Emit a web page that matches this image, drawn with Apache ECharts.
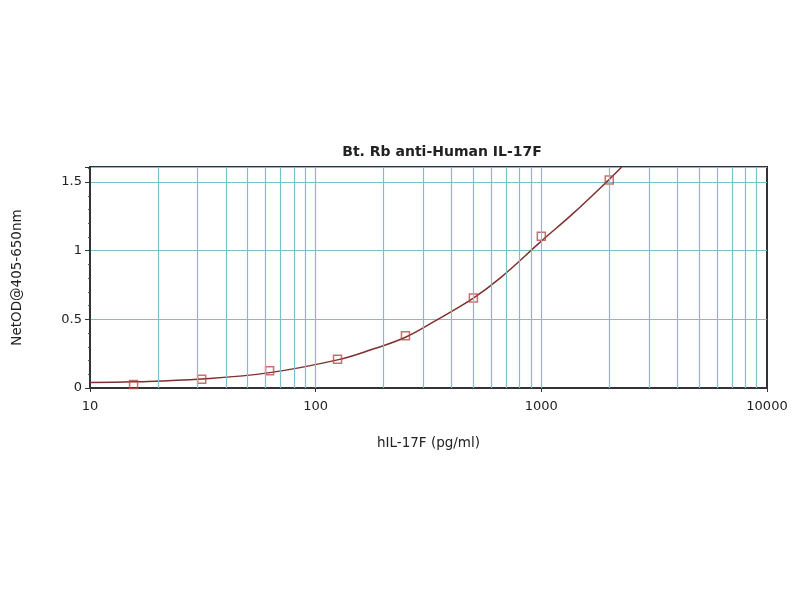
<!DOCTYPE html>
<html>
<head>
<meta charset="utf-8">
<script src="https://cdn.jsdelivr.net/npm/echarts@6/dist/echarts.min.js"></script>
<style>
  html, body { margin: 0; padding: 0; background: #fff; }
  #chart { width: 800px; height: 600px; }
</style>
</head>
<body>
<div id="chart"></div>
<script>
// standard concentrations (pg/ml) and measured OD
const conc = [15.6, 31.25, 62.5, 125, 250, 500, 1000, 2000];
const od = [0.025, 0.063, 0.126, 0.21, 0.38, 0.655, 1.105, 1.515];

// fitted curve
const curveX = [10, 15.6, 31.25, 62.5, 125, 177, 250, 331, 500, 656, 1000, 1380, 2000, 2270];
const curveY = [0.04, 0.045, 0.066, 0.112, 0.205, 0.28, 0.37, 0.48, 0.655, 0.8, 1.07, 1.27, 1.52, 1.61];

// vertical grid lines of the log axis
const gridX = [20, 30, 40, 50, 60, 70, 80, 90, 100,
  200, 300, 400, 500, 600, 700, 800, 900, 1000,
  2000, 3000, 4000, 5000, 6000, 7000, 8000, 9000];

const gridColor = '#7cc0ce';
const font = '"DejaVu Sans", Arial, sans-serif';

const chart = echarts.init(document.getElementById('chart'));

chart.setOption({
  animation: false,
  title: {
    text: 'Bt. Rb anti-Human IL-17F',
    left: 437,
    textAlign: 'center',
    top: 140,
    textStyle: { fontFamily: font, fontSize: 14, fontWeight: 'bold', color: '#222' }
  },
  grid: {
    left: 90, right: 33, top: 167, bottom: 212,
    show: true, borderColor: '#333', borderWidth: 2, backgroundColor: '#fff'
  },
  xAxis: {
    type: 'log',
    logBase: 10,
    min: 10,
    max: 10000,
    name: 'hIL-17F (pg/ml)',
    nameLocation: 'middle',
    nameGap: 48,
    nameTextStyle: { fontFamily: font, fontSize: 13.5, color: '#222' },
    axisLine: { lineStyle: { color: '#333', width: 2 } },
    axisTick: { show: true, length: 4, lineStyle: { color: '#333' } },
    axisLabel: {
      fontFamily: font, fontSize: 13, color: '#222', margin: 12,
      formatter: v => String(Math.round(v))
    },
    splitLine: { show: false }
  },
  yAxis: {
    type: 'value',
    min: 0,
    max: 1.61,
    interval: 0.5,
    name: 'NetOD@405-650nm',
    nameLocation: 'middle',
    nameGap: 66,
    nameTextStyle: { fontFamily: font, fontSize: 13.5, color: '#222' },
    axisLine: { show: true, lineStyle: { color: '#333', width: 2 } },
    axisTick: { show: true, length: 5, lineStyle: { color: '#333' } },
    minorTick: { show: true, splitNumber: 5, length: 2, lineStyle: { color: '#555' } },
    axisLabel: {
      fontFamily: font, fontSize: 13, color: '#222', margin: 8,
      formatter: v => (v > 1.6 ? '' : String(v))
    },
    splitLine: { show: true, lineStyle: { color: gridColor, width: 1.2 } }
  },
  series: [
    {
      type: 'line',
      name: 'grid',
      data: [],
      silent: true,
      markLine: {
        silent: true,
        symbol: 'none',
        label: { show: false },
        lineStyle: { color: gridColor, width: 1.2, type: 'solid' },
        data: gridX.map(x => ({ xAxis: x }))
      }
    },
    {
      type: 'line',
      name: 'fit',
      data: curveX.map((x, i) => [x, curveY[i]]),
      smooth: 0.4,
      showSymbol: false,
      clip: true,
      lineStyle: { color: '#7e2f2f', width: 1.5 },
      z: 3
    },
    {
      type: 'scatter',
      name: 'standards',
      data: conc.map((x, i) => [x, od[i]]),
      symbol: 'rect',
      symbolSize: 8,
      itemStyle: { color: 'rgba(255,255,255,0)', borderColor: '#c04848', borderWidth: 1.5 },
      z: 4
    }
  ]
});
</script>
</body>
</html>
